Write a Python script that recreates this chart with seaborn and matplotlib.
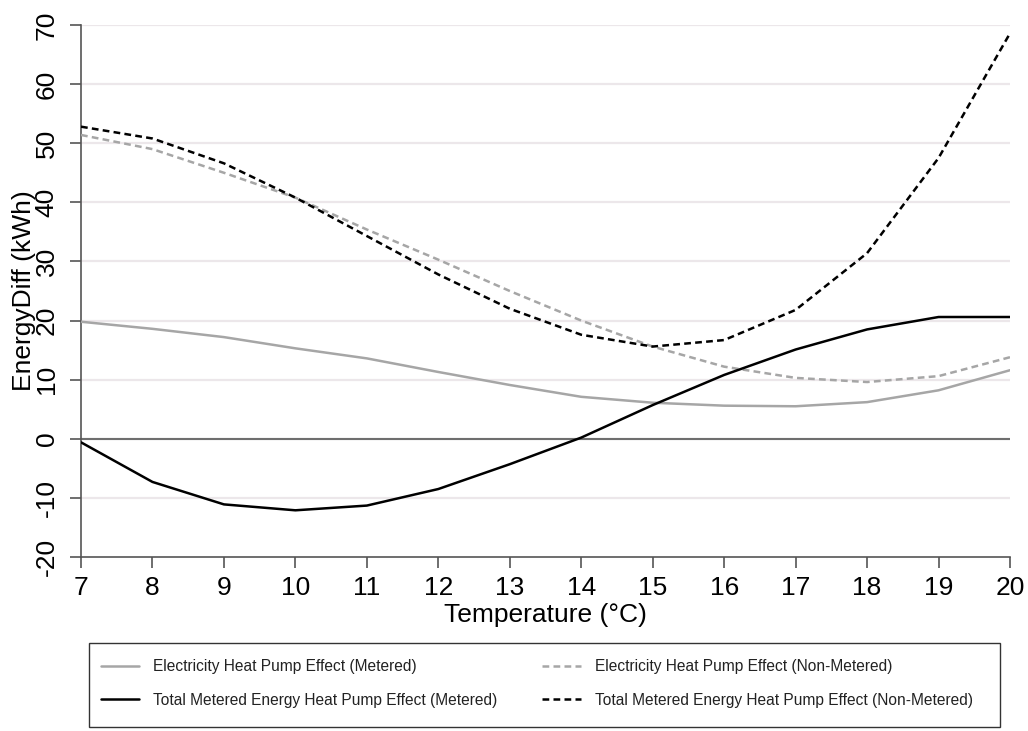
import matplotlib
matplotlib.use("Agg")
import matplotlib.pyplot as plt
import matplotlib.patches as mpatches
from matplotlib.lines import Line2D
import seaborn as sns
import pandas as pd

# Outdoor temperature bins (°C)
temperature = [7, 8, 9, 10, 11, 12, 13, 14, 15, 16, 17, 18, 19, 20]

# Heat pump effect on daily energy use (kWh)
elec_metered = [19.8, 18.6, 17.2, 15.3, 13.6, 11.3, 9.1, 7.1, 6.1, 5.6, 5.5, 6.2, 8.2, 11.6]
elec_non_metered = [51.4, 49.0, 45.0, 40.8, 35.4, 30.3, 25.0, 20.0, 15.6, 12.2, 10.3, 9.6, 10.6, 13.8]
total_metered = [-0.6, -7.3, -11.1, -12.1, -11.3, -8.5, -4.3, 0.2, 5.7, 10.8, 15.1, 18.5, 20.6, 20.6]
total_non_metered = [52.8, 50.8, 46.6, 40.8, 34.3, 27.8, 22.0, 17.6, 15.6, 16.7, 21.8, 31.4, 47.5, 68.6]

series_labels = [
    "Electricity Heat Pump Effect (Metered)",
    "Electricity Heat Pump Effect (Non-Metered)",
    "Total Metered Energy Heat Pump Effect (Metered)",
    "Total Metered Energy Heat Pump Effect (Non-Metered)",
]
y_ticks = [-20, -10, 0, 10, 20, 30, 40, 50, 60, 70]

sns.set_theme(style="white")
plt.rcParams["font.family"] = ["Liberation Sans", "DejaVu Sans"]
plt.rcParams["axes.unicode_minus"] = False
plt.rcParams["text.color"] = "black"

W, H = 1028, 731
fig = plt.figure(figsize=(W / 100, H / 100), dpi=100)
ax = fig.add_axes([81 / W, 1 - 557 / H, (1010 - 81) / W, (557 - 25) / H])

GREY = "#a6a6a6"
BLACK = "#000000"
DASH = (0, (2.7, 1.7))
styles = [
    dict(color=GREY, linestyle="-"),
    dict(color=GREY, linestyle=DASH),
    dict(color=BLACK, linestyle="-"),
    dict(color=BLACK, linestyle=DASH),
]
values = [elec_metered, elec_non_metered, total_metered, total_non_metered]

# horizontal grid and zero reference line
for yv in y_ticks[1:]:
    ax.axhline(yv, color="#ece7ea", lw=1.6, zorder=0)
ax.axhline(0, color="#6e6e6e", lw=1.5, zorder=1)

for vals, st, lab in zip(values, styles, series_labels):
    df = pd.DataFrame({"Temperature": temperature, "EnergyDiff": vals})
    sns.lineplot(data=df, x="Temperature", y="EnergyDiff", ax=ax, lw=1.8,
                 color=st["color"], linestyle=st["linestyle"], label=lab,
                 legend=False, zorder=3)

ax.set_xlim(7, 20)
ax.set_ylim(-20, 70)
ax.set_xticks(temperature)
ax.set_yticks(y_ticks)
ax.tick_params(axis="both", direction="out", length=8, width=1.2,
               color="#555555", labelsize=19, labelcolor="black",
               bottom=True, left=True)
ax.tick_params(axis="x", pad=5.5)
ax.tick_params(axis="y", pad=8)
for lbl in ax.get_yticklabels():
    lbl.set_rotation(90)
    lbl.set_va("center")

for side in ("top", "right"):
    ax.spines[side].set_visible(False)
for side in ("left", "bottom"):
    ax.spines[side].set_color("#555555")
    ax.spines[side].set_linewidth(1.2)

ax.set_xlabel("Temperature (°C)", fontsize=19, labelpad=2, color="black")
ax.set_ylabel("EnergyDiff (kWh)", fontsize=19, color="black")
ax.yaxis.set_label_coords(-0.048, 0.5)

# legend in a boxed area beneath the plot
handles = [Line2D([], [], color=st["color"], linestyle=st["linestyle"], lw=1.8)
           for st in styles]
order = [0, 2, 1, 3]
fig.legend([handles[i] for i in order], [series_labels[i] for i in order],
           ncol=2, loc="upper left", bbox_to_anchor=(101 / W, 1 - 659 / H),
           frameon=False, fontsize=11.2, labelcolor="#222222",
           handlelength=2.45, handletextpad=0.9, columnspacing=2.9,
           labelspacing=1.2, borderaxespad=0, borderpad=0)
fig.add_artist(mpatches.Rectangle((89 / W, 1 - 727 / H), (1000 - 89) / W,
                                  (727 - 643) / H, transform=fig.transFigure,
                                  fill=False, edgecolor="#333333", lw=1.0))

fig.savefig("out.png", dpi=100, facecolor="white")
